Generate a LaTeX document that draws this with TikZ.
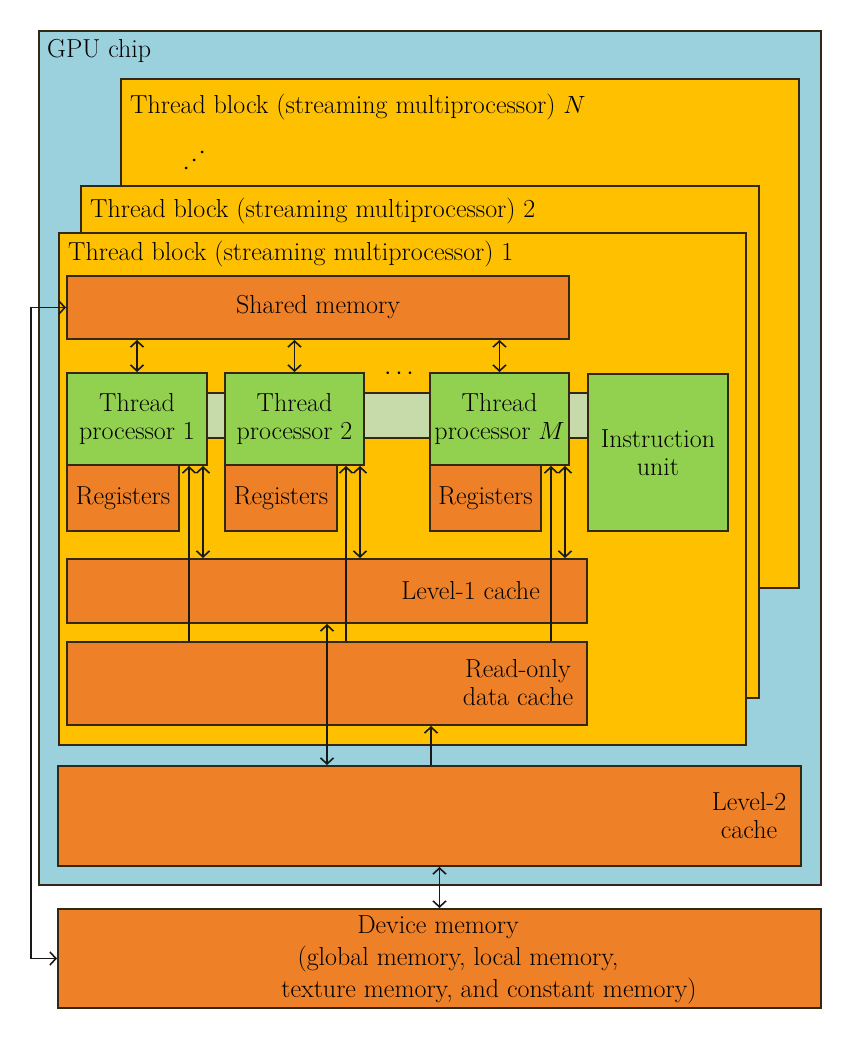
\documentclass[tikz,border=0pt]{standalone}
\usetikzlibrary{arrows.meta}
\definecolor{chipblue}{RGB}{155,208,221}
\definecolor{blockyellow}{RGB}{255,192,0}
\definecolor{memorange}{RGB}{238,128,40}
\definecolor{procgreen}{RGB}{146,208,80}
\definecolor{busgreen}{RGB}{199,218,170}
\definecolor{edge}{RGB}{50,40,20}

\begin{document}
\begin{tikzpicture}[x=1pt, y=-1pt, >={Straight Barb[length=6pt,width=13pt]},
  font=\fontsize{26}{28}\selectfont,
  box/.style={draw=edge, line width=2pt, anchor=north west, inner sep=0pt, align=center},
  mem/.style={box, fill=memorange},
  proc/.style={box, fill=procgreen},
  lbl/.style={anchor=west, inner sep=0pt},
  link/.style={line width=1.6pt, draw=black!90}]
\useasboundingbox (0,0) rectangle (850,1040);
% GPU chip and the stacked thread blocks
\node[box, fill=chipblue, minimum width=782, minimum height=854] (gpu) at (38,30) {};
\node[lbl] (gpulbl) at (47,51) {GPU chip};
\node[box, fill=blockyellow, minimum width=678, minimum height=509] (tbN) at (120,78) {};
\node[lbl] (tbNlbl) at (130,107) {Thread block (streaming multiprocessor) $N$};
\foreach \d in {0,1,2}
  \fill (186+8*\d,168-8*\d) circle (1.5pt);
\node[box, fill=blockyellow, minimum width=678, minimum height=512] (tb2) at (80,185) {};
\node[lbl] (tb2lbl) at (90,211) {Thread block (streaming multiprocessor) 2};
\node[box, fill=blockyellow, minimum width=687, minimum height=512] (tb1) at (58,232) {};
\node[lbl] (tb1lbl) at (68,254) {Thread block (streaming multiprocessor) 1};
% Shared memory
\node[mem, minimum width=502, minimum height=63] (shm) at (66,275) {Shared memory};
% Bus behind the processors
\node[box, fill=busgreen, minimum width=390, minimum height=45] (bus) at (198,392) {};
% Thread processors and registers
\node[proc, minimum width=140, minimum height=92] (tp1) at (66,372) {Thread\\processor 1};
\node[proc, minimum width=139, minimum height=92] (tp2) at (224,372) {Thread\\processor 2};
\node[proc, minimum width=139, minimum height=92] (tpM) at (429,372) {Thread\\processor $M$};
\node[proc, minimum width=140, minimum height=157] (iu) at (587,373) {Instruction\\unit};
\node (tpdots) at (399,374) {$\cdots$};
\node[mem, minimum width=112, minimum height=66] (reg1) at (66,464) {Registers};
\node[mem, minimum width=112, minimum height=66] (reg2) at (224,464) {Registers};
\node[mem, minimum width=111, minimum height=66] (regM) at (429,464) {Registers};
% Caches
\node[mem, minimum width=520, minimum height=64] (lone) at (66,558) {};
\node[lbl, anchor=east] (lonetxt) at ([xshift=-48pt]lone.east) {Level-1 cache};
\node[mem, minimum width=520, minimum height=83] (ronly) at (66,641) {};
\node[inner sep=0pt, align=center] (ronlytxt) at (518,683) {Read-only\\data cache};
\node[mem, minimum width=743, minimum height=100] (ltwo) at (57,765) {};
\node[inner sep=0pt, align=center] (ltwotxt) at (749,816) {Level-2\\cache};
\node[mem, minimum width=763, minimum height=99] (dev) at (57,908) {};
\node[inner sep=0pt, align=center] (devtxt) at (438,960) {Device memory\\[4pt]
  \hspace*{40pt}(global memory, local memory,\\[4pt]
  \hspace*{102pt}texture memory, and constant memory)};
% Connections
\foreach \p in {1,2,M}{
  \draw[link, <->] (shm.south -| tp\p.north) -- (tp\p.north);
  \coordinate (u\p) at ([xshift=-19pt]tp\p.south east);
  \coordinate (v\p) at ([xshift=-5pt]tp\p.south east);
  \draw[link, ->] (u\p |- ronly.north) -- (u\p);
  \draw[link, <->] (v\p) -- (v\p |- lone.north);
}
\draw[link, <->] (lone.south) -- (lone.south |- ltwo.north);
\coordinate (rl) at ([xshift=104pt]ronly.south);
\draw[link, ->] (rl |- ltwo.north) -- (rl);
\draw[link, <->] (ltwo.south -| dev.north) -- (dev.north);
\draw[link, <->] (shm.west) -- ++(-35,0) |- (dev.west);
\end{tikzpicture}
\end{document}
